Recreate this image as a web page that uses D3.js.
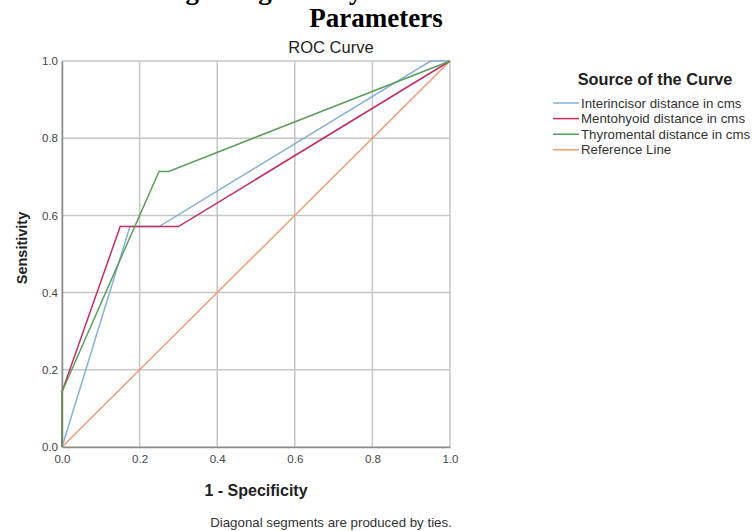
<!DOCTYPE html>
<html>
<head>
<meta charset="utf-8">
<script src="https://cdn.jsdelivr.net/npm/d3@7"></script>
<style>
  body { margin: 0; background: #fff; }
  svg { display: block; }
</style>
</head>
<body>
<svg id="chart" width="755" height="531"></svg>
<script>
// ROC curve data (1 - specificity, sensitivity)
const seriesNames = [
  'Interincisor distance in cms',
  'Mentohyoid distance in cms',
  'Thyromental distance in cms',
  'Reference Line'
];
const interincisorFpr = [0, 0.175, 0.25, 0.95, 1];
const interincisorTpr = [0, 0.571, 0.571, 1, 1];
const mentohyoidFpr = [0, 0, 0.15, 0.30, 1];
const mentohyoidTpr = [0, 0.143, 0.571, 0.571, 1];
const thyromentalFpr = [0, 0, 0.25, 0.275, 1];
const thyromentalTpr = [0, 0.143, 0.714, 0.714, 1];
const referenceFpr = [0, 1];
const referenceTpr = [0, 1];
const tickValues = [0, 0.2, 0.4, 0.6, 0.8, 1.0];

const colors = ['#86b0da', '#c42d62', '#5c9d5a', '#f39a70'];

const svg = d3.select('#chart');
const font = '"Liberation Sans", Arial, sans-serif';
const serif = '"Liberation Serif", "Times New Roman", serif';

// Figure caption (first line is cut off by the crop of the page)
svg.append('text')
  .attr('x', 100).attr('y', -1)
  .style('font-family', serif)
  .style('font-weight', 'bold').style('font-size', '27px')
  .text('Showing Using Airway Assessment');
svg.append('text')
  .attr('x', 376).attr('y', 27)
  .attr('text-anchor', 'middle')
  .style('font-family', serif)
  .style('font-weight', 'bold').style('font-size', '27px')
  .text('Parameters');

const plot = { left: 62, top: 61, right: 450, bottom: 447 };

const x = d3.scaleLinear().domain([0, 1]).range([plot.left, plot.right]);
const y = d3.scaleLinear().domain([0, 1]).range([plot.bottom, plot.top]);

// Chart title
svg.append('text')
  .attr('x', 331).attr('y', 53)
  .attr('text-anchor', 'middle')
  .style('font-family', font).style('font-size', '16.5px').style('fill', '#222')
  .text('ROC Curve');

// Grid
const g = svg.append('g');
g.selectAll('.vgrid').data(tickValues).enter().append('line')
  .attr('x1', d => x(d)).attr('x2', d => x(d))
  .attr('y1', plot.top).attr('y2', plot.bottom)
  .style('stroke', '#c6c6c6').style('stroke-width', 1.5);
g.selectAll('.hgrid').data(tickValues).enter().append('line')
  .attr('y1', d => y(d)).attr('y2', d => y(d))
  .attr('x1', plot.left).attr('x2', plot.right)
  .style('stroke', '#c6c6c6').style('stroke-width', 1.5);

// Axes
const xAxis = svg.append('g')
  .attr('transform', `translate(0,${plot.bottom})`)
  .call(d3.axisBottom(x).tickValues(tickValues).tickFormat(d3.format('.1f')).tickSize(0).tickPadding(6));
const yAxis = svg.append('g')
  .attr('transform', `translate(${plot.left},0)`)
  .call(d3.axisLeft(y).tickValues(tickValues).tickFormat(d3.format('.1f')).tickSize(0).tickPadding(4));
[xAxis, yAxis].forEach(a => {
  a.select('.domain').style('stroke', '#8a8a8a').style('stroke-width', 1.5);
  a.selectAll('text').style('font-family', font).style('font-size', '11.5px').style('fill', '#444');
});
xAxis.selectAll('text').attr('dy', '0.85em');

// Curves
const curves = [
  { fpr: interincisorFpr, tpr: interincisorTpr },
  { fpr: mentohyoidFpr, tpr: mentohyoidTpr },
  { fpr: thyromentalFpr, tpr: thyromentalTpr },
  { fpr: referenceFpr, tpr: referenceTpr }
];
const line = d3.line().x(d => x(d[0])).y(d => y(d[1]));
const drawOrder = [3, 0, 1, 2];
drawOrder.forEach(i => {
  const c = curves[i];
  svg.append('path')
    .datum(c.fpr.map((f, k) => [f, c.tpr[k]]))
    .attr('d', line)
    .style('fill', 'none')
    .style('stroke', colors[i])
    .style('stroke-width', 1.5);
});

// Axis titles
svg.append('text')
  .attr('transform', 'translate(27,248) rotate(-90)')
  .attr('text-anchor', 'middle')
  .style('font-family', font).style('font-weight', 'bold').style('font-size', '14.5px').style('fill', '#222')
  .text('Sensitivity');
svg.append('text')
  .attr('x', 256).attr('y', 496)
  .attr('text-anchor', 'middle')
  .style('font-family', font).style('font-weight', 'bold').style('font-size', '16px').style('fill', '#222')
  .text('1 - Specificity');
svg.append('text')
  .attr('x', 331).attr('y', 527)
  .attr('text-anchor', 'middle')
  .style('font-family', font).style('font-size', '13.3px').style('fill', '#333')
  .text('Diagonal segments are produced by ties.');

// Legend
const legend = svg.append('g');
legend.append('text')
  .attr('x', 655).attr('y', 85)
  .attr('text-anchor', 'middle')
  .style('font-family', font).style('font-weight', 'bold').style('font-size', '16.3px').style('fill', '#222')
  .text('Source of the Curve');
const items = legend.selectAll('.item').data(seriesNames).enter().append('g')
  .attr('transform', (d, i) => `translate(553,${103 + i * 15.6})`);
items.append('line')
  .attr('x1', 0).attr('x2', 26)
  .style('stroke', (d, i) => colors[i]).style('stroke-width', 1.5);
items.append('text')
  .attr('x', 28).attr('dy', '0.35em')
  .style('font-family', font).style('font-size', '13.3px').style('fill', '#333')
  .text(d => d);
</script>
</body>
</html>
